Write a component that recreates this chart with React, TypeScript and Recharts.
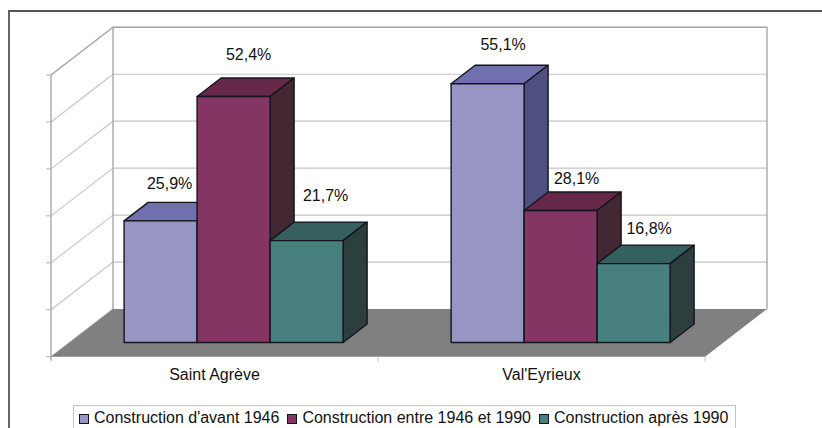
import { Bar, BarChart, LabelList, Legend, usePlotArea, XAxis, YAxis } from "recharts";

const communes = ["Saint Agrève", "Val'Eyrieux"];
const avant1946 = [25.9, 55.1];
const entre1946et1990 = [52.4, 28.1];
const apres1990 = [21.7, 16.8];
const valueTicks = [0, 10, 20, 30, 40, 50, 60];

const chartData = communes.map((commune, i) => ({
  commune,
  avant: avant1946[i],
  entre: entre1946et1990[i],
  apres: apres1990[i],
}));

const FONT = '"Liberation Sans", Arial, sans-serif';
const BAR_DEPTH = { x: 24, y: 18.5 };
// where the front of the floor and the back wall sit, relative to the plane of the bars
const FRONT = { x: -18.8, y: 14.2 };
const BACK = { x: 43.2, y: -33.5 };

const LABEL_NUDGE = {
  avant: [
    [9, -37],
    [15.5, -39],
  ],
  entre: [
    [15, -42],
    [16, -32],
  ],
  apres: [
    [19, -44.7],
    [15.5, -35],
  ],
};

function Room() {
  const plot = usePlotArea();
  if (!plot) return null;
  const left = plot.x;
  const right = plot.x + plot.width;
  const bottom = plot.y + plot.height;
  const rows = valueTicks.map((v) => bottom - (v / 60) * plot.height);
  const midX = left + plot.width / 2 + FRONT.x;

  return (
    <g>
      {rows.slice(1).map((y) => (
        <line key={y} x1={left + BACK.x} x2={right + BACK.x} y1={y + BACK.y} y2={y + BACK.y} stroke="#c4c4c4" strokeWidth={1.2} />
      ))}
      {rows.map((y) => (
        <g key={y}>
          <line x1={left + FRONT.x} x2={left + BACK.x} y1={y + FRONT.y} y2={y + BACK.y} stroke="#c4c4c4" strokeWidth={1.1} />
          <line x1={left + FRONT.x - 5} x2={left + FRONT.x} y1={y + FRONT.y} y2={y + FRONT.y} stroke="#b0b0b0" />
        </g>
      ))}
      <line x1={left + FRONT.x} x2={left + FRONT.x} y1={rows[0] + FRONT.y + 4} y2={rows[6] + FRONT.y} stroke="#a8a8a8" strokeWidth={1.4} />
      <path
        d={`M${left + BACK.x} ${rows[0] + BACK.y}V${rows[6] + BACK.y}H${right + BACK.x}V${rows[0] + BACK.y}`}
        fill="none"
        stroke="#a8a8a8"
        strokeWidth={1.4}
      />
      <line x1={left + FRONT.x} x2={left + BACK.x} y1={rows[6] + FRONT.y} y2={rows[6] + BACK.y} stroke="#a8a8a8" strokeWidth={1.2} />
      <polygon
        points={`${left + FRONT.x},${rows[0] + FRONT.y} ${left + BACK.x},${rows[0] + BACK.y} ${right + BACK.x},${rows[0] + BACK.y} ${right + FRONT.x},${rows[0] + FRONT.y}`}
        fill="#808080"
      />
      {[midX, right + FRONT.x].map((x) => (
        <line key={x} x1={x} x2={x} y1={rows[0] + FRONT.y} y2={rows[0] + FRONT.y + 5} stroke="#c4c4c4" />
      ))}
    </g>
  );
}

function box3d(front: string, top: string, side: string) {
  return function Box(props: any) {
    const { x, y, width, height } = props;
    const dx = BAR_DEPTH.x;
    const dy = BAR_DEPTH.y;
    return (
      <g stroke="#14141c" strokeWidth={1.4} strokeLinejoin="round">
        <polygon points={`${x},${y} ${x + dx},${y - dy} ${x + width + dx},${y - dy} ${x + width},${y}`} fill={top} />
        <polygon
          points={`${x + width},${y} ${x + width + dx},${y - dy} ${x + width + dx},${y + height - dy} ${x + width},${y + height}`}
          fill={side}
        />
        <rect x={x} y={y} width={width} height={height} fill={front} />
      </g>
    );
  };
}

function percentLabel(nudge: number[][]) {
  return function PercentLabel(props: any) {
    const { x, y, width, index, value } = props;
    const [nx, ny] = nudge[index];
    return (
      <text
        x={x + width / 2 + nx}
        y={y + ny}
        textAnchor="middle"
        dominantBaseline="central"
        fontFamily={FONT}
        fontSize={16}
        fill="#111"
      >
        {`${Number(value).toFixed(1).replace(".", ",")}%`}
      </text>
    );
  };
}

function CommuneTick(props: any) {
  const { x, y, payload } = props;
  return (
    <text x={x + FRONT.x} y={y} textAnchor="middle" dominantBaseline="central" fontFamily={FONT} fontSize={16} fill="#111">
      {payload.value}
    </text>
  );
}

function LegendBox(props: any) {
  const { payload } = props;
  return (
    <div
      style={{
        boxSizing: "border-box",
        width: 663,
        height: 40,
        border: "1.5px solid #c4c4c4",
        background: "#fff",
        display: "flex",
        alignItems: "flex-start",
        paddingLeft: 5,
        paddingTop: 0,
        fontFamily: FONT,
        fontSize: 16,
        color: "#111",
        lineHeight: "24px",
        whiteSpace: "nowrap",
      }}
    >
      {(payload || []).map((item: any) => (
        <span key={item.value} style={{ display: "flex", alignItems: "center", marginRight: 8 }}>
          <span
            style={{
              display: "inline-block",
              boxSizing: "border-box",
              width: 10,
              height: 10,
              marginRight: 5,
              marginTop: 1,
              background: item.color,
              border: "1.2px solid #14141c",
            }}
          />
          {item.value}
        </span>
      ))}
    </div>
  );
}

export default function App() {
  return (
    <div style={{ position: "absolute", left: 0, top: 0, width: 822, height: 428, overflow: "hidden", background: "#fff" }}>
      <div
        style={{
          position: "absolute",
          left: 8,
          top: 10,
          width: 830,
          height: 430,
          borderLeft: "2px solid #666",
          borderTop: "2px solid #555",
        }}
      />
      <BarChart
        width={822}
        height={428}
        data={chartData}
        margin={{ top: 60.8, right: 98.2, bottom: 0, left: 69.8 }}
        barCategoryGap={54.3}
        barGap={0}
        style={{ position: "absolute", left: 0, top: 0 }}
      >
        <XAxis dataKey="commune" axisLine={false} tickLine={false} tick={<CommuneTick />} tickMargin={26} height={85.5} interval={0} />
        <YAxis hide domain={[0, 60]} ticks={valueTicks} />
        <Room />
        <Bar dataKey="avant" name="Construction d'avant 1946" fill="#9795c4" shape={box3d("#9795c4", "#6f70ad", "#4f5082")} isAnimationActive={false}>
          <LabelList dataKey="avant" content={percentLabel(LABEL_NUDGE.avant)} />
        </Bar>
        <Bar dataKey="entre" name="Construction entre 1946 et 1990" fill="#843564" shape={box3d("#843564", "#662849", "#432733")} isAnimationActive={false}>
          <LabelList dataKey="entre" content={percentLabel(LABEL_NUDGE.entre)} />
        </Bar>
        <Bar dataKey="apres" name="Construction après 1990" fill="#47807f" shape={box3d("#47807f", "#35605f", "#2c3f3e")} isAnimationActive={false}>
          <LabelList dataKey="apres" content={percentLabel(LABEL_NUDGE.apres)} />
        </Bar>
        <Legend
          content={<LegendBox />}
          layout="horizontal"
          verticalAlign="middle"
          align="center"
          itemSorter={null}
          wrapperStyle={{ left: 73, top: 405, width: 663, bottom: "auto" }}
        />
      </BarChart>
    </div>
  );
}
